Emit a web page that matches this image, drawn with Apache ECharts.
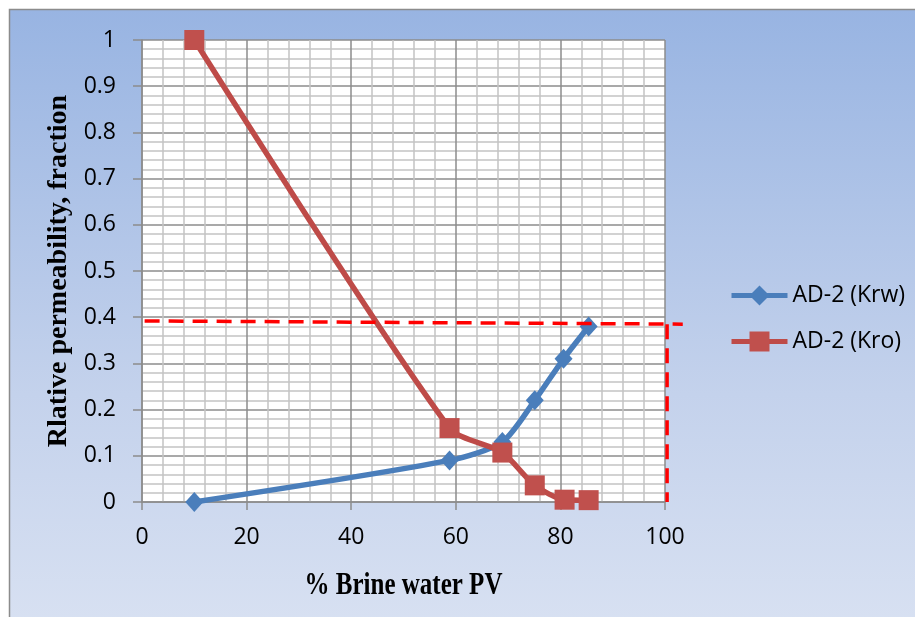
<!DOCTYPE html>
<html><head><meta charset="utf-8">
<script src="https://cdn.jsdelivr.net/npm/echarts@6/dist/echarts.min.js"></script>
<style>html,body{margin:0;padding:0;background:#fff}#c{width:915px;height:617px}</style>
</head><body><div id="c"></div>
<script>
const seriesNames = ['AD-2 (Krw)', 'AD-2 (Kro)'];
const brineX = [10, 58.8, 68.9, 75.1, 80.6, 85.4];
const krw = [0, 0.09, 0.13, 0.22, 0.31, 0.38];
const brineXo = [10, 58.8, 68.9, 75.1, 80.8, 85.4];
const kro = [1, 0.16, 0.107, 0.036, 0.005, 0.004];
const xTicks = [0, 20, 40, 60, 80, 100];
const yTicks = [0, 0.1, 0.2, 0.3, 0.4, 0.5, 0.6, 0.7, 0.8, 0.9, 1];
const xTitle = '% Brine water PV';
const yTitle = 'Rlative permeability, fraction';
// annotation (red dashed guide lines) in data units
const guideH = [[0.5, 0.392], [103.4, 0.385]];
const guideV = [[100.4, 0.385], [100.4, 0]];

const chart = echarts.init(document.getElementById('c'), null, {renderer: 'canvas'});
const tickFont = {fontFamily: 'Open Sans', fontSize: 23, color: '#000'};
const bgRect = {
  type: 'rect', z: -10, silent: true,
  shape: {x: 9.5, y: 9.5, width: 1000, height: 700},
  style: {
    fill: new echarts.graphic.LinearGradient(0, 0, 0, 1, [
      {offset: 0, color: '#98b4e2'}, {offset: 0.55, color: '#c4d2ec'}, {offset: 1, color: '#dfe6f4'}
    ]),
    stroke: '#8c8c8c', lineWidth: 1.5
  }
};
const opt = {
  animation: false,
  graphic: [bgRect],
  grid: {left: 142, top: 40, width: 523, height: 462, outerBoundsMode: 'none', backgroundColor: '#fff', show: true, borderWidth: 0},
  legend: {
    orient: 'vertical', left: 724, top: 279, itemGap: 23, itemWidth: 56, itemHeight: 25,
    lineStyle: {width: 5},
    textStyle: {fontFamily: 'Open Sans', fontSize: 23, color: '#000'},
    data: seriesNames
  },
  xAxis: {
    type: 'value', min: 0, max: 100, interval: 20,
    axisLine: {show: true, onZero: false, lineStyle: {color: '#8c8c8c', width: 1.5}},
    axisTick: {show: true, length: 8, lineStyle: {color: '#8c8c8c', width: 1.5}},
    axisLabel: Object.assign({margin: 24, formatter: v => xTicks.includes(v) ? String(v) : ''}, tickFont),
    splitLine: {show: true, lineStyle: {color: '#8c8c8c', width: 1.5}},
    minorTick: {show: false, splitNumber: 5},
    minorSplitLine: {show: true, lineStyle: {color: '#c3c3c3', width: 1.5}}
  },
  yAxis: {
    type: 'value', min: 0, max: 1, interval: 0.1,
    name: yTitle, nameLocation: 'middle', nameGap: 68, nameRotate: 90,
    nameTextStyle: {fontFamily: 'Liberation Serif', fontWeight: 'bold', fontSize: 28, color: '#000'},
    axisLine: {show: true, lineStyle: {color: '#8c8c8c', width: 1.5}},
    axisTick: {show: true, length: 9, lineStyle: {color: '#8c8c8c', width: 1.5}},
    axisLabel: Object.assign({margin: 26, formatter: v => {const r = Math.round(v*10)/10; return yTicks.includes(r) ? String(r) : '';}}, tickFont),
    splitLine: {show: true, lineStyle: {color: '#8c8c8c', width: 1.5}},
    minorTick: {show: false, splitNumber: 5},
    minorSplitLine: {show: true, lineStyle: {color: '#c3c3c3', width: 1.5}}
  },
  series: [
    {
      name: seriesNames[0], type: 'line', smooth: 0.25, z: 3,
      data: brineX.map((x, i) => [x, krw[i]]),
      symbol: 'diamond', symbolSize: [18, 20],
      lineStyle: {color: '#4a7ebb', width: 5.5},
      itemStyle: {color: '#4a7ebb'}
    },
    {
      name: seriesNames[1], type: 'line', smooth: 0.25, z: 4,
      data: brineXo.map((x, i) => [x, kro[i]]),
      symbol: 'rect', symbolSize: 20,
      lineStyle: {color: '#be4b48', width: 5.5},
      itemStyle: {color: '#c0504d'}
    }
  ]
};
chart.setOption(opt);
const toPx = p => chart.convertToPixel({gridIndex: 0}, p);
const xMid = (toPx([0, 0])[0] + toPx([100, 0])[0]) / 2;
chart.setOption({graphic: [
  bgRect,
  {type: 'polyline', z: 10, silent: true, shape: {points: guideH.map(toPx)},
   style: {stroke: '#ff0000', lineWidth: 3.5, lineDash: [15, 9], fill: null}},
  {type: 'polyline', z: 10, silent: true, shape: {points: guideV.map(toPx)},
   style: {stroke: '#ff0000', lineWidth: 3.5, lineDash: [15, 9], fill: null}},
  {type: 'text', z: 10, silent: true, x: xMid, y: 586, scaleY: 1.3,
   style: {text: xTitle, fontFamily: 'Liberation Serif', fontWeight: 'bold', fontSize: 25,
           fill: '#000', align: 'center', verticalAlign: 'middle'}}
]});
</script>
</body></html>
